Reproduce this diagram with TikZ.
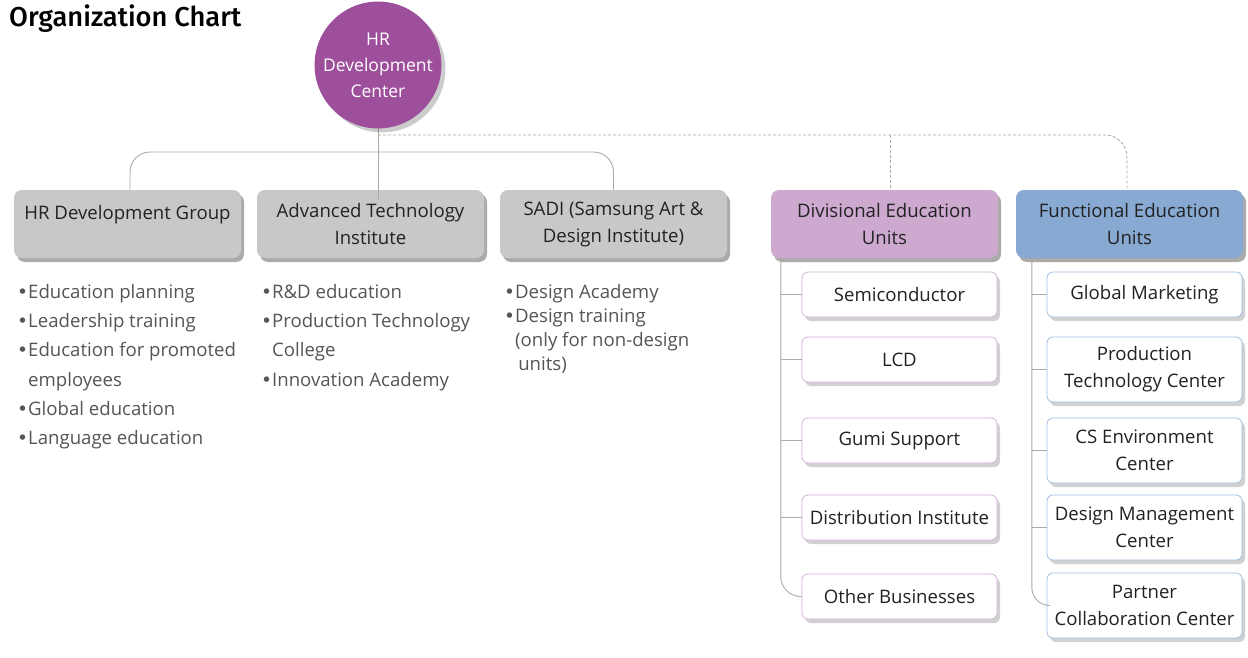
\documentclass[tikz,border=0pt]{standalone}
\usepackage{fontspec}
\setmainfont{Open Sans}
\newfontfamily\dejavu{DejaVu Sans}
\newfontfamily\titlefont{Fira Sans Medium}
\newcommand\bul{{\dejavu •}}
\usetikzlibrary{shadows}
\definecolor{hrpurple}{RGB}{158,79,155}
\definecolor{divfill}{RGB}{205,169,208}
\definecolor{funfill}{RGB}{135,169,210}
\definecolor{grayfill}{RGB}{200,200,200}
\definecolor{divedge}{RGB}{214,178,217}
\definecolor{funedge}{RGB}{160,190,226}
\definecolor{conncol}{RGB}{170,170,170}
\definecolor{txt}{RGB}{34,34,34}
\definecolor{bultxt}{RGB}{85,85,85}
\tikzset{
  shad/.style={drop shadow={shadow xshift=3pt,shadow yshift=-4pt,opacity=0.18,fill=black}},
  topbox/.style={shad,rounded corners=8pt,minimum width=227pt,minimum height=68pt,inner sep=0pt,align=center,text=txt,font=\fontsize{18.6}{27}\selectfont},
  subbox/.style={shad,fill=white,rounded corners=6pt,minimum width=195pt,inner sep=0pt,align=center,text=txt,font=\fontsize{18.6}{27}\selectfont},
  divsub/.style={subbox,draw=divedge,line width=0.8pt},
  funsub/.style={subbox,draw=funedge,line width=0.8pt},
  conn/.style={draw=conncol,line width=0.9pt},
  dconn/.style={draw=conncol,line width=0.9pt,dash pattern=on 3pt off 2pt},
  bullist/.style={anchor=north west,align=left,inner sep=0pt,text=bultxt,font=\fontsize{18.6}{29.3}\selectfont},
}
\begin{document}
\begin{tikzpicture}[x=1pt,y=-1pt]
\useasboundingbox (0,0) rectangle (1248,658);
\fill[white] (0,0) rectangle (1248,658);

\node[anchor=west,inner sep=0pt,font=\fontsize{27.3}{32}\titlefont] (title) at (9,19) {Organization Chart};

% connectors (drawn first)
\node[circle,minimum size=114pt,inner sep=0pt] (hrc) at (378,65) {};
\node[topbox] (hrg) at (127.5,224) {};
\node[topbox] (ati) at (370.5,224) {};
\node[topbox] (sadi) at (613.5,224) {};
\node[topbox] (div) at (884.5,224) {};
\node[topbox] (fun) at (1129.5,224) {};
\coordinate (dashL) at (378,135);
\coordinate (dashM) at (890,135);
\coordinate (busY) at (378,152);

\draw[conn] (hrc.south) -- (hrc.south |- ati.north);
\draw[conn,rounded corners=20pt] ([xshift=2.5pt]hrg.north) |- (busY) -| (sadi.north);
\draw[dconn,rounded corners=22pt] (dashL) -- (dashM) -| ([xshift=-2.5pt]fun.north);
\draw[dconn] (dashM) -- (dashM |- div.north);

% real nodes
\node[circle,minimum size=114pt,inner sep=0pt,fill=hrpurple,text=white,align=center,
  font=\fontsize{17.5}{27}\selectfont,drop shadow={shadow xshift=4pt,shadow yshift=-4pt,opacity=0.2,fill=black}] (hr) at (378,65) {HR\\[-1pt]Development\\[-1pt]Center};
\node[topbox,fill=grayfill] (hrgb) at (127.5,224) {\raisebox{-3pt}{HR Development Group}\\\mbox{}};
\node[topbox,fill=grayfill] (atib) at (370.5,224) {Advanced Technology\\Institute};
\node[topbox,fill=grayfill] (sadib) at (613.5,224) {SADI (Samsung Art \&\\Design Institute)};
\node[topbox,fill=divfill] (divb) at (884.5,224) {Divisional Education\\Units};
\node[topbox,fill=funfill] (funb) at (1129.5,224) {Functional Education\\Units};
\draw[conn] (hrc.south |- atib.north) -- ++(0,10);

% bullet lists
\node[bullist] (l1) at (17,284) {\bul Education planning\\\bul Leadership training\\\bul Education for promoted\\\hphantom{\bul}employees\\\bul Global education\\\bul Language education};
\node[bullist] (l2) at (261,284) {\bul R\&D education\\\bul Production Technology\\\hphantom{\bul}College\\\bul Innovation Academy};
\node[bullist,font=\fontsize{18.6}{24}\selectfont] (l3) at (504,284) {\bul Design Academy\\\bul Design training\\\hphantom{\bul}(only for non-design\\\hphantom{\bul\,}units)};

% divisional sub units
\node[divsub,minimum height=45pt] (d1) at (899.5,294.5) {Semiconductor};
\node[divsub,minimum height=45pt] (d2) at (899.5,359.5) {LCD};
\node[divsub,minimum height=45pt] (d3) at (899.5,440.5) {Gumi Support};
\node[divsub,minimum height=45pt] (d4) at (899.5,517.5) {Distribution Institute};
\node[divsub,minimum height=45pt] (d5) at (899.5,596.5) {Other Businesses};
\coordinate (dtop) at ([xshift=10pt]divb.south west);
\draw[conn,rounded corners=20pt] (dtop) |- (d5.west);
\foreach \n in {d1,d2,d3,d4} \draw[conn] (dtop |- \n.west) -- (\n.west);

% functional sub units
\node[funsub,minimum height=45pt] (f1) at (1144.5,294.5) {Global Marketing};
\node[funsub,minimum height=65pt] (f2) at (1144.5,369.5) {Production\\Technology Center};
\node[funsub,minimum height=65pt] (f3) at (1144.5,450.5) {CS Environment\\Center};
\node[funsub,minimum height=65pt] (f4) at (1144.5,527.5) {Design Management\\Center};
\node[funsub,minimum height=65pt] (f5) at (1144.5,605.5) {Partner\\Collaboration Center};
\coordinate (ftop) at ([xshift=16pt]funb.south west);
\draw[conn,rounded corners=18pt] (ftop) |- (f5.west);
\foreach \n in {f1,f2,f3,f4} \draw[conn] (ftop |- \n.west) -- (\n.west);
\end{tikzpicture}
\end{document}
